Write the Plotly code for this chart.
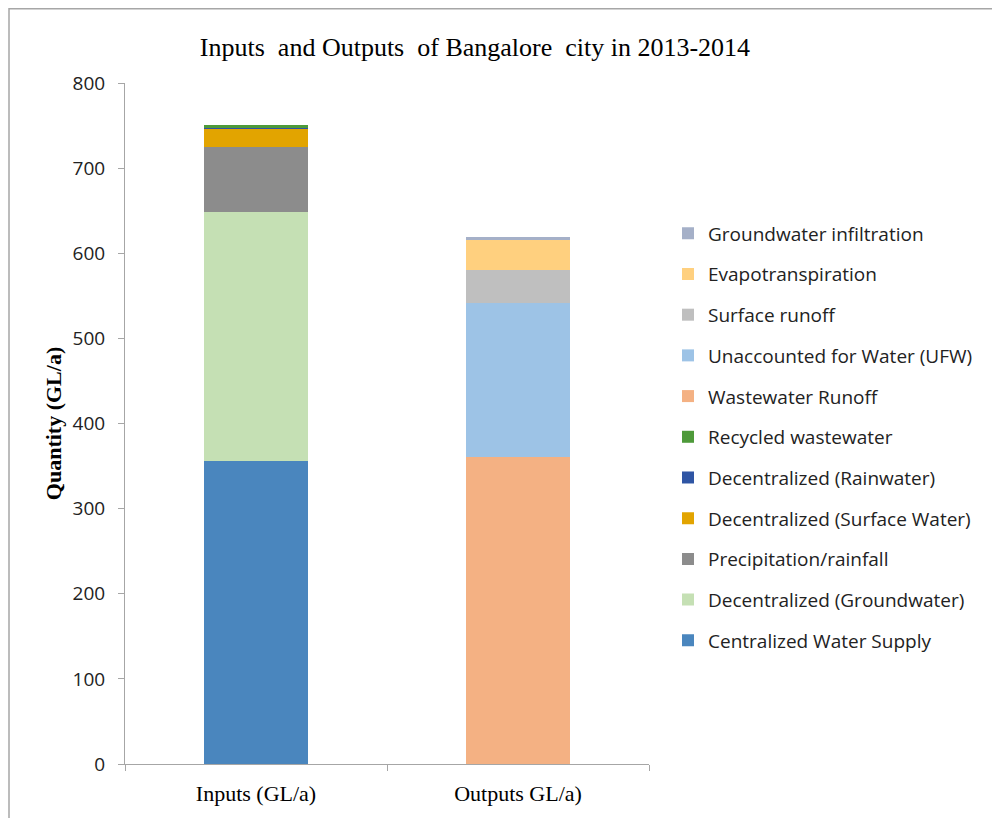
import plotly.graph_objects as go

categories = ["Inputs (GL/a)", "Outputs GL/a)"]

series_names = [
    "Centralized Water Supply",
    "Decentralized (Groundwater)",
    "Precipitation/rainfall",
    "Decentralized (Surface Water)",
    "Decentralized (Rainwater)",
    "Recycled wastewater",
    "Wastewater Runoff",
    "Unaccounted for Water (UFW)",
    "Surface runoff",
    "Evapotranspiration",
    "Groundwater infiltration",
]

inputs_values = [356, 292, 77, 22, 0.5, 3, 0, 0, 0, 0, 0]
outputs_values = [0, 0, 0, 0, 0, 0, 361, 181, 38, 36, 3]

colors = [
    "#4A86BE", "#C5E0B4", "#8C8C8C", "#E2A400", "#2F55A4", "#4E9A3A",
    "#F4B183", "#9DC3E6", "#BFBFBF", "#FFD07F", "#A5B0C8",
]

fig = go.Figure()
n = len(series_names)
for i, name in enumerate(series_names):
    fig.add_trace(go.Bar(
        x=categories,
        y=[inputs_values[i], outputs_values[i]],
        name=name,
        legendgroup=name,
        legendrank=100 + (n - i),
        marker=dict(color=colors[i], line=dict(width=0)),
    ))

W, H = 992, 810
L, T = 117, 75
PW, PH = 524, 684

fig.update_layout(
    barmode="stack",
    bargap=0.6,
    width=W,
    height=H,
    paper_bgcolor="white",
    plot_bgcolor="white",
    margin=dict(l=L, r=W - L - PW, t=T, b=H - T - PH),
    title=dict(
        text="Inputs  and Outputs  of Bangalore  city in 2013-2014",
        x=467 / W, xanchor="center", y=1 - 39 / H, yanchor="middle",
        font=dict(family="Liberation Serif", size=26, color="black"),
    ),
    legend=dict(
        traceorder="grouped",
        tracegroupgap=13,
        x=(660 - L) / PW, xanchor="left",
        y=0.807, yanchor="top",
        font=dict(family="Open Sans", size=19, color="#222222"),
        itemwidth=30,
        bgcolor="rgba(0,0,0,0)",
    ),
    xaxis=dict(
        showline=True, linecolor="#A6A6A6", linewidth=1,
        ticks="outside", tickson="boundaries", ticklen=6, tickcolor="#A6A6A6",
        tickfont=dict(family="Liberation Serif", size=22, color="black"),
        ticklabelstandoff=10,
        showgrid=False,
    ),
    yaxis=dict(
        range=[0, 800], dtick=100,
        showline=True, linecolor="#A6A6A6", linewidth=1,
        ticks="outside", ticklen=6, tickcolor="#A6A6A6",
        tickfont=dict(family="Open Sans", size=19, color="#222222"),
        ticklabelstandoff=9,
        showgrid=False, zeroline=False,
        title=dict(text="<b>Quantity (GL/a)</b>",
                   font=dict(family="Liberation Serif", size=22, color="black"),
                   standoff=4),
    ),
)

fig.add_shape(type="rect", xref="paper", yref="paper",
              x0=(1 - L) / PW, x1=1.8, y0=-0.2, y1=1 + (T - 0.5) / PH,
              line=dict(color="#A6A6A6", width=1.5), fillcolor="rgba(0,0,0,0)", layer="below")

fig.write_html("out.html")
